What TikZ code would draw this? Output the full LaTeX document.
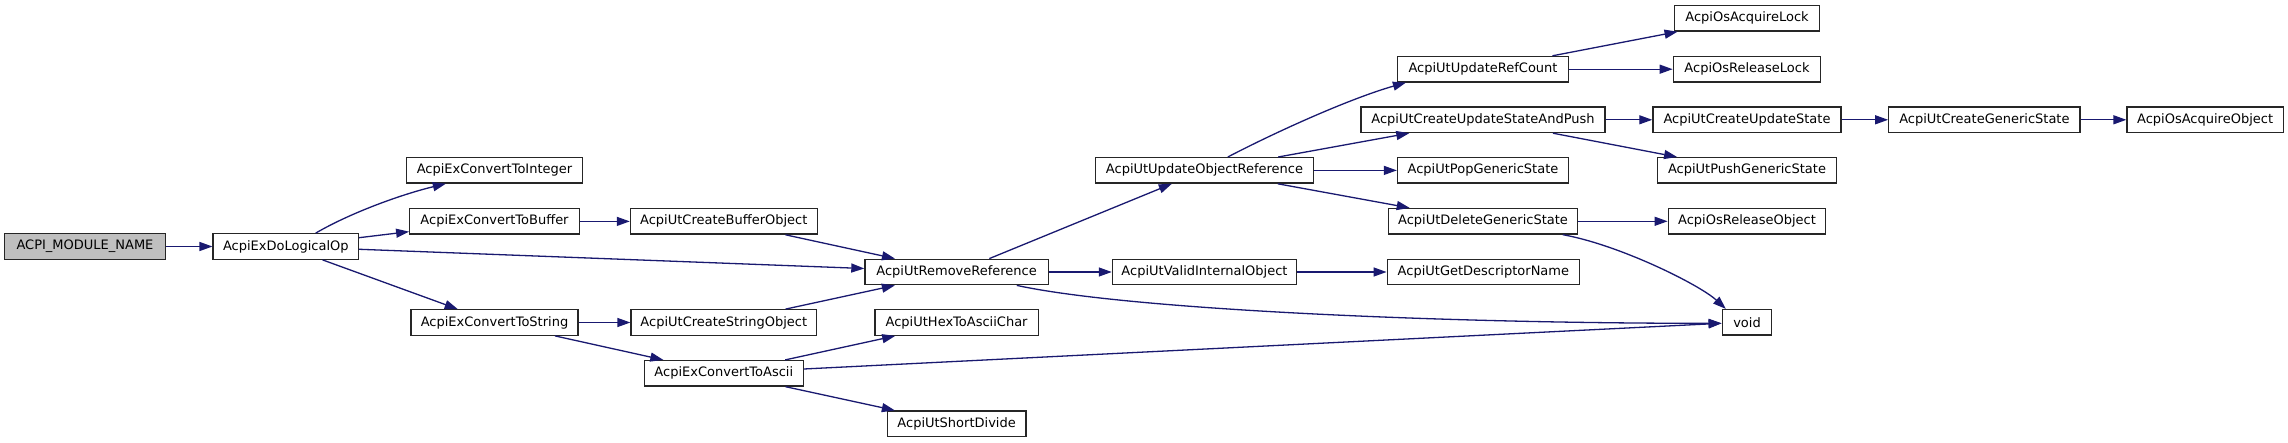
\documentclass[tikz,border=0pt]{standalone}
\usepackage{fontspec}
\setmainfont{DejaVu Sans}
\usetikzlibrary{arrows.meta}
\definecolor{edgeblue}{HTML}{191970}
\definecolor{boxgray}{HTML}{BFBFBF}
\tikzset{
  fn/.style={draw=black!85, line width=1.3pt, fill=white, rectangle, inner sep=0pt,
    minimum height=25.5pt, font=\fontsize{13}{15}\selectfont},
  rootfn/.style={fn, fill=boxgray},
  call/.style={draw=edgeblue, line width=1.3pt, -{Triangle[length=13pt,width=9pt]}},
}
\begin{document}
\begin{tikzpicture}[x=1pt,y=-1pt]
\useasboundingbox (0,0) rectangle (2288,443);
\fill[white] (0,0) rectangle (2288,443);
% nodes
\node[rootfn, minimum width=160.7pt] (amn) at (85,246.5) {ACPI\_MODULE\_NAME};
\node[fn, minimum width=145.4pt] (dlo) at (285.8,246.5) {AcpiExDoLogicalOp};
\node[fn, minimum width=176pt] (cti) at (494.5,170.3) {AcpiExConvertToInteger};
\node[fn, minimum width=169.5pt] (ctb) at (494.5,221.4) {AcpiExConvertToBuffer};
\node[fn, minimum width=166.8pt] (cts) at (494.5,322.5) {AcpiExConvertToString};
\node[fn, minimum width=186.7pt] (cbo) at (723.8,221.4) {AcpiUtCreateBufferObject};
\node[fn, minimum width=185.6pt] (cso) at (723.8,322.5) {AcpiUtCreateStringObject};
\node[fn, minimum width=158.8pt] (cta) at (723.8,373.3) {AcpiExConvertToAscii};
\node[fn, minimum width=183.3pt] (rr) at (956.6,272) {AcpiUtRemoveReference};
\node[fn, minimum width=163.4pt] (htac) at (956.6,322.5) {AcpiUtHexToAsciiChar};
\node[fn, minimum width=138.9pt] (sd) at (956.6,423.8) {AcpiUtShortDivide};
\node[fn, minimum width=217.4pt] (uor) at (1204.5,170.4) {AcpiUtUpdateObjectReference};
\node[fn, minimum width=184.2pt] (vio) at (1204.5,272) {AcpiUtValidInternalObject};
\node[fn, minimum width=171pt] (urc) at (1483,69.2) {AcpiUtUpdateRefCount};
\node[fn, minimum width=244.1pt] (cusp) at (1483,119.8) {AcpiUtCreateUpdateStateAndPush};
\node[fn, minimum width=171pt] (pgs) at (1483,170.4) {AcpiUtPopGenericState};
\node[fn, minimum width=189.3pt] (dgs) at (1483,221.3) {AcpiUtDeleteGenericState};
\node[fn, minimum width=192.4pt] (gdn) at (1483.4,272) {AcpiUtGetDescriptorName};
\node[fn, minimum width=144.4pt] (oal) at (1747,18.3) {AcpiOsAcquireLock};
\node[fn, minimum width=147.4pt] (orl) at (1747,69.2) {AcpiOsReleaseLock};
\node[fn, minimum width=188.2pt] (cus) at (1747,119.8) {AcpiUtCreateUpdateState};
\node[fn, minimum width=179pt] (pushgs) at (1747,170.4) {AcpiUtPushGenericState};
\node[fn, minimum width=157.5pt] (oro) at (1747,221.3) {AcpiOsReleaseObject};
\node[fn, minimum width=49.6pt] (void) at (1747,322.3) {void};
\node[fn, minimum width=191.3pt] (cgs) at (1984.4,119.8) {AcpiUtCreateGenericState};
\node[fn, minimum width=156.2pt] (oao) at (2205.1,119.8) {AcpiOsAcquireObject};
% edges
\draw[call] (amn) -- (dlo);
\draw[call] ([xshift=29.9pt]dlo.north) .. controls (352,212) and (403,194) .. ([xshift=-48.7pt]cti.south);
\draw[call] (dlo) -- (ctb);
\draw[call] (dlo) -- (rr);
\draw[call] (dlo) -- (cts);
\draw[call] (ctb) -- (cbo);
\draw[call] (cbo) -- (rr);
\draw[call] (cts) -- (cso);
\draw[call] (cts) -- (cta);
\draw[call] (cso) -- (rr);
\draw[call] (rr) -- (uor);
\draw[call] (rr) -- (vio);
\draw[call] ([xshift=60.2pt]rr.south) .. controls (1130,310) and (1450,323.5) .. ([yshift=-1pt]void.west);
\draw[call] (cta) -- (htac);
\draw[call] ([yshift=4.3pt]cta.east) -- ([yshift=-1pt]void.west);
\draw[call] (cta) -- (sd);
\draw[call] ([xshift=23.3pt]uor.north) .. controls (1277.9,130.9) and (1350.9,98.2) .. ([xshift=-77.1pt]urc.south);
\draw[call] (uor) -- (cusp);
\draw[call] (uor) -- (pgs);
\draw[call] (uor) -- (dgs);
\draw[call] (urc) -- (oal);
\draw[call] (urc) -- (orl);
\draw[call] (cusp) -- (cus);
\draw[call] (cusp) -- (pushgs);
\draw[call] (cus) -- (cgs);
\draw[call] (cgs) -- (oao);
\draw[call] (dgs) -- (oro);
\draw[call] ([xshift=79.8pt]dgs.south) .. controls (1620,245) and (1700,285) .. ([xshift=-21.2pt]void.north);
\draw[call] (vio) -- (gdn);
\end{tikzpicture}
\end{document}
